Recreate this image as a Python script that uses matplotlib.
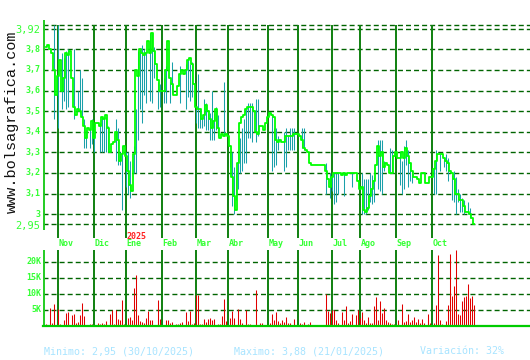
import matplotlib.pyplot as plt
import numpy as np

plt.rcParams['lines.scale_dashes'] = False

# cierre diario (aprox. una sesion por posicion)
close = [3.81, 3.82, 3.80, 3.78, 3.70, 3.58, 3.67, 3.75, 3.60, 3.66,
         3.78, 3.77, 3.79, 3.66, 3.52, 3.48, 3.51, 3.50, 3.47, 3.43,
         3.37, 3.42, 3.41, 3.45, 3.37, 3.44, 3.44, 3.43, 3.47, 3.46,
         3.48, 3.42, 3.30, 3.34, 3.35, 3.40, 3.36, 3.26, 3.29, 3.33,
         3.28, 3.21, 3.14, 3.11, 3.29, 3.70, 3.67, 3.80, 3.78, 3.77,
         3.78, 3.84, 3.78, 3.88,
         3.79, 3.73, 3.65, 3.60, 3.60, 3.60, 3.70, 3.84, 3.66, 3.63,
         3.58, 3.58, 3.62, 3.68, 3.70, 3.68, 3.70, 3.75, 3.76, 3.73,
         3.63, 3.52, 3.51, 3.51, 3.46, 3.48, 3.53, 3.50, 3.46, 3.42,
         3.45, 3.51, 3.42, 3.37, 3.39, 3.38, 3.39, 3.38, 3.33, 3.18,
         3.09, 3.02, 3.25, 3.44, 3.47, 3.48, 3.51, 3.52, 3.52, 3.52,
         3.50, 3.40, 3.39, 3.43, 3.43,
         3.41, 3.44, 3.47, 3.49, 3.48, 3.47, 3.36, 3.35, 3.36, 3.35,
         3.35, 3.38, 3.38, 3.38, 3.38, 3.39, 3.39, 3.39, 3.38, 3.36,
         3.32, 3.31, 3.30, 3.25, 3.24, 3.24, 3.24, 3.24, 3.24, 3.24,
         3.24, 3.21, 3.17, 3.13, 3.18, 3.20, 3.20, 3.20, 3.20, 3.19,
         3.20, 3.19, 3.20, 3.20, 3.20, 3.20, 3.20, 3.16, 3.12, 3.13,
         3.02, 3.01, 3.03, 3.09,
         3.12, 3.16, 3.24, 3.33, 3.28, 3.30, 3.23, 3.25, 3.24, 3.20,
         3.20, 3.28, 3.30, 3.27, 3.27, 3.30, 3.27, 3.32, 3.28, 3.25,
         3.21, 3.18, 3.18, 3.17, 3.15, 3.20, 3.20, 3.15, 3.15, 3.18,
         3.18, 3.22, 3.26, 3.29, 3.29, 3.29, 3.27, 3.26, 3.25, 3.21,
         3.20, 3.17, 3.10, 3.10, 3.07, 3.07, 3.04, 3.01, 3.01, 3.00,
         2.98, 2.95]

# rangos maximo-minimo (barras azules)
rango_idx = [4, 6, 8, 9, 10, 11, 14, 16, 17, 18, 19, 20, 22, 23, 24, 27, 28, 29, 30, 31,
             35, 36, 37, 38, 40, 41, 42, 44, 45, 46, 47, 48, 49, 50, 52, 53, 54, 56, 57, 59,
             60, 62, 63, 67, 70, 71, 72, 73, 75, 76, 77, 78, 79, 80, 81, 82, 83, 84, 85, 86,
             89, 92, 93, 94, 95, 96, 97, 98, 99, 100, 101, 102, 103, 105, 106, 113, 114, 115, 116, 119,
             120, 121, 122, 123, 124, 128, 129, 140, 142, 143, 144, 145, 146, 149, 153, 158, 159, 160, 161, 162,
             163, 164, 166, 167, 168, 169, 172, 173, 177, 178, 179, 180, 181, 182, 183, 194, 195, 197, 199, 200,
             201, 203, 204, 205, 206, 207, 208, 209, 211, 212]
rango_max = [3.92, 3.92, 3.78, 3.76, 3.79, 3.80, 3.80, 3.60, 3.70, 3.66, 3.46, 3.41, 3.42, 3.46, 3.43, 3.44, 3.47, 3.47, 3.47, 3.43,
             3.46, 3.42, 3.30, 3.33, 3.30, 3.30, 3.26, 3.33, 3.51, 3.79, 3.80, 3.82, 3.80, 3.78, 3.88, 3.88, 3.81, 3.64, 3.63, 3.66,
             3.72, 3.64, 3.74, 3.72, 3.73, 3.76, 3.73, 3.74, 3.51, 3.68, 3.51, 3.47, 3.56, 3.54, 3.49, 3.49, 3.60, 3.49, 3.52, 3.48,
             3.64, 3.30, 3.30, 3.23, 3.20, 3.31, 3.37, 3.42, 3.46, 3.51, 3.54, 3.54, 3.54, 3.56, 3.56, 3.48, 3.42, 3.42, 3.38, 3.40,
             3.42, 3.38, 3.42, 3.42, 3.42, 3.42, 3.42, 3.25, 3.20, 3.20, 3.20, 3.20, 3.20, 3.20, 3.20, 3.20, 3.17, 3.17, 3.17, 3.20,
             3.19, 3.18, 3.36, 3.36, 3.36, 3.26, 3.32, 3.31, 3.30, 3.26, 3.33, 3.36, 3.31, 3.25, 3.21, 3.23, 3.31, 3.29, 3.27, 3.29,
             3.27, 3.19, 3.21, 3.18, 3.12, 3.10, 3.08, 3.07, 3.06, 3.03]
rango_min = [3.46, 3.42, 3.51, 3.55, 3.51, 3.52, 3.46, 3.50, 3.49, 3.47, 3.32, 3.32, 3.32, 3.34, 3.30, 3.30, 3.30, 3.30, 3.30, 3.30,
             3.26, 3.24, 3.24, 3.02, 3.13, 3.10, 3.08, 3.20, 3.20, 3.36, 3.51, 3.44, 3.58, 3.54, 3.55, 3.54, 3.66, 3.51, 3.52, 3.54,
             3.54, 3.54, 3.59, 3.54, 3.51, 3.57, 3.55, 3.57, 3.44, 3.42, 3.42, 3.42, 3.43, 3.41, 3.41, 3.36, 3.36, 3.36, 3.41, 3.38,
             3.38, 3.23, 3.04, 3.00, 3.07, 3.12, 3.20, 3.21, 3.25, 3.25, 3.37, 3.37, 3.35, 3.35, 3.38, 3.21, 3.23, 3.24, 3.31, 3.21,
             3.23, 3.31, 3.31, 3.31, 3.31, 3.32, 3.31, 3.10, 3.08, 3.11, 3.05, 3.06, 3.10, 3.09, 3.13, 3.00, 3.00, 3.00, 3.02, 3.06,
             3.05, 3.06, 3.12, 3.11, 3.10, 3.21, 3.20, 3.20, 3.14, 3.10, 3.12, 3.24, 3.13, 3.16, 3.15, 3.10, 3.10, 3.21, 3.23, 3.21,
             3.16, 3.07, 3.06, 3.00, 3.06, 3.01, 3.01, 3.00, 3.00, 2.98]

# volumen en miles de titulos
volumen = [0.6, 0.3, 5.5, 0.8, 6.9, 0.3, 5.2, 0.6, 0.3, 1.9,
           4.0, 4.4, 0.3, 3.4, 3.7, 1.0, 1.4, 3.3, 7.1, 3.1,
           0.3, 0.3, 0.6, 0.6, 0.3, 0.3, 0.8, 0.6, 1.0, 0.6,
           1.7, 0.4, 3.7, 5.0, 0.6, 5.0, 2.1, 1.9, 8.1, 0.6,
           0.3, 2.5, 2.8, 1.9, 11.9, 15.9, 3.4, 1.5, 1.3, 1.0,
           2.5, 4.7, 1.9, 1.9, 0.4, 0.4, 8.1, 2.2, 0.3, 0.4,
           1.9, 1.9, 1.0, 1.3, 0.4, 0.6, 0.6, 1.0, 1.4, 0.4,
           4.4, 1.6, 4.7, 0.6, 0.8, 9.7, 9.7, 0.6, 0.6, 2.2,
           1.3, 2.2, 2.5, 1.8, 2.1, 0.4, 0.6, 0.6, 3.0, 8.4,
           1.6, 0.3, 2.5, 4.7, 2.5, 0.4, 5.3, 2.2, 0.8, 0.4,
           5.0, 0.6, 0.6, 0.4, 0.4, 11.2, 0.4, 1.0, 0.9, 0.4,
           0.4, 0.3, 0.8, 3.7, 1.9, 4.4, 1.6, 0.8, 1.9, 1.3,
           2.8, 1.0, 0.8, 0.4, 2.1, 0.4, 0.3, 1.0, 0.6, 1.3,
           0.4, 0.6, 1.3, 0.4, 0.4, 0.4, 0.4, 0.4, 0.4, 0.4,
           10.0, 4.7, 4.1, 5.0, 5.0, 1.9, 0.8, 0.4, 4.4, 1.9,
           6.3, 1.0, 1.7, 3.7, 0.4, 3.4, 5.0, 2.5, 4.4, 1.9,
           1.0, 2.8, 1.0, 1.0, 6.3, 9.1, 1.9, 7.8, 4.1, 5.6,
           1.9, 1.3, 1.0, 0.6, 0.6, 0.3, 1.9, 0.4, 6.9, 1.3,
           1.6, 3.7, 1.3, 1.9, 2.8, 1.3, 2.2, 1.0, 2.2, 1.0,
           0.4, 3.7, 0.8, 0.3, 0.8, 6.6, 22.2, 1.9, 0.6, 0.4,
           1.6, 6.6, 22.5, 9.4, 12.5, 23.8, 3.7, 3.4, 7.8, 9.1,
           9.4, 13.1, 8.8, 9.4, 6.6]

meses = ['Nov', 'Dic', 'Ene', 'Feb', 'Mar', 'Abr', 'May', 'Jun', 'Jul', 'Ago', 'Sep', 'Oct']
meses_pos = [6, 24, 40, 58, 75, 91, 111, 126, 143, 157, 175, 193]
precio_grid = [2.95, 3.0, 3.1, 3.2, 3.3, 3.4, 3.5, 3.6, 3.7, 3.8, 3.9, 3.92]
precio_labels = {3.0: '3', 3.1: '3,1', 3.2: '3,2', 3.3: '3,3', 3.4: '3,4',
                 3.5: '3,5', 3.6: '3,6', 3.7: '3,7', 3.8: '3,8'}
vol_grid = [5, 10, 15, 20]
vol_labels = ['5K', '10K', '15K', '20K']

LIMA = '#33ff33'
GRID = '#006400'
MES = '#0f800f'
AZUL = '#1aa0aa'
ROJO = '#e00000'
MONO = 'DejaVu Sans Mono'
DASH = (0, (3.6, 2.2))

fig = plt.figure(figsize=(5.3, 3.6), dpi=100)
fig.patch.set_facecolor('white')

# --- panel de precios ---
ax = fig.add_axes([43/530, 122/360, 487/530, 218/360])
ax.set_xlim(-1.25, 242.25)
ax.set_ylim(2.884, 3.9423)
ax.axis('off')

for v in precio_grid:
    ax.axhline(v, color=GRID, lw=1.0, ls=DASH, zorder=1)
ax.vlines(meses_pos, 2.884, 3.92, color=MES, lw=1.4, zorder=2)
ax.vlines(-0.8, 2.923, 3.9423, color='#22cc22', lw=1.4, zorder=2)

x = np.arange(len(close))
ax.vlines(rango_idx, rango_min, rango_max, color=AZUL, lw=0.75, zorder=3)
ax.step(x, close, where='mid', color='#00ff00', lw=1.3, zorder=4)

for v, t in precio_labels.items():
    ax.text(-2.7, v, t, ha='right', va='center', color=LIMA, fontsize=6,
            family=MONO, fontweight='bold')
ax.text(-2.5, 3.92, '3,92', ha='right', va='top', color=LIMA, fontsize=7.5, family=MONO)
ax.text(-2.5, 2.943, '2,95', ha='right', va='center', color=LIMA, fontsize=7.5, family=MONO)

for p, m in zip(meses_pos, meses):
    ax.text(p + 0.6, 2.855, m, ha='left', va='center', color=LIMA, fontsize=6,
            family=MONO, fontweight='bold')
ax.text(40.3, 2.893, '2025', ha='left', va='center', color='#ff2020', fontsize=6,
        family=MONO, fontweight='bold')

# --- panel de volumen ---
ax2 = fig.add_axes([43/530, 34/360, 487/530, 76/360])
ax2.set_xlim(-1.25, 242.25)
ax2.set_ylim(0, 23.75)
ax2.axis('off')

for v in vol_grid:
    ax2.axhline(v, color=GRID, lw=1.0, ls=DASH, zorder=1)
ax2.vlines(meses_pos, 0, 23.75, color=MES, lw=1.4, zorder=2)
ax2.vlines(-0.8, 0, 23.75, color='#22cc22', lw=1.4, zorder=2)
xv = np.arange(len(volumen))
ax2.vlines(xv, 0, volumen, color=ROJO, lw=0.75, zorder=3)
ax2.axhline(0, color='#00cc00', lw=1.6, zorder=4, clip_on=False)

for v, t in zip(vol_grid, vol_labels):
    ax2.text(-2.0, v, t, ha='right', va='center', color=LIMA, fontsize=6,
             family=MONO, fontweight='bold')

# --- textos ---
fig.text(12/530, 1 - 122/360, 'www.bolsagrafica.com', rotation=90, ha='center',
         va='center', fontsize=11, family='Liberation Mono', color='#111111')
fig.text(44/530, 1 - 351/360, 'Minimo: 2,95 (30/10/2025)', ha='left', va='center',
         fontsize=7.2, family=MONO, color='#a8e4ff')
fig.text(234/530, 1 - 351/360, 'Maximo: 3,88 (21/01/2025)', ha='left', va='center',
         fontsize=7.2, family=MONO, color='#a8e4ff')
fig.text(420/530, 1 - 351/360, 'Variación: 32%', ha='left', va='center',
         fontsize=7.2, family=MONO, color='#a8e4ff')

fig.savefig('out.png', dpi=100)
